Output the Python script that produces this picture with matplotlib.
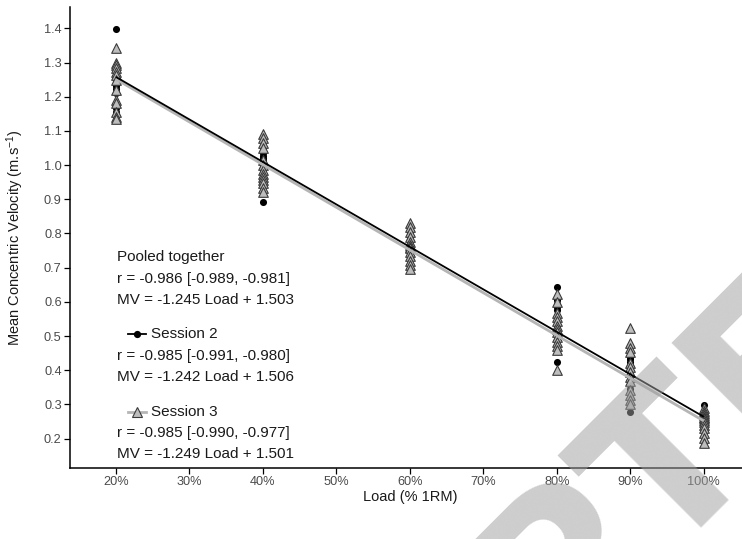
import numpy as np
import matplotlib
matplotlib.use("Agg")
import matplotlib.pyplot as plt

# ---- data -------------------------------------------------------------
load_pct = [20, 40, 60, 80, 90, 100]

# Session 2 mean concentric velocity (m/s) at each load
s2_20 = [1.397, 1.262, 1.255, 1.245, 1.245, 1.238, 1.230, 1.222, 1.210, 1.176, 1.168, 1.156]
s2_40 = [1.054, 1.034, 1.027, 1.020, 1.015, 1.005, 0.995, 0.985, 0.975, 0.965, 0.955, 0.893]
s2_60 = [0.815, 0.808, 0.800, 0.790, 0.785, 0.775, 0.765, 0.757, 0.745, 0.735, 0.728, 0.712]
s2_80 = [0.644, 0.605, 0.595, 0.586, 0.575, 0.547, 0.538, 0.527, 0.515, 0.505, 0.490, 0.425]
s2_90 = [0.440, 0.432, 0.424, 0.415, 0.410, 0.406, 0.390, 0.380, 0.367, 0.357, 0.345, 0.279]
s2_100 = [0.299, 0.280, 0.270, 0.265, 0.262, 0.258, 0.255, 0.252, 0.250, 0.248, 0.245, 0.240]

# Session 3 mean concentric velocity (m/s) at each load
s3_20 = [1.341, 1.300, 1.292, 1.283, 1.272, 1.263, 1.250, 1.220, 1.190, 1.182, 1.156, 1.142, 1.135]
s3_40 = [1.090, 1.078, 1.064, 1.050, 1.015, 1.000, 0.986, 0.975, 0.966, 0.955, 0.947, 0.932, 0.922]
s3_60 = [0.832, 0.820, 0.805, 0.791, 0.776, 0.765, 0.760, 0.757, 0.747, 0.735, 0.720, 0.708, 0.695]
s3_80 = [0.623, 0.600, 0.567, 0.555, 0.545, 0.530, 0.520, 0.513, 0.498, 0.484, 0.470, 0.459, 0.401]
s3_90 = [0.523, 0.479, 0.464, 0.454, 0.420, 0.410, 0.396, 0.381, 0.370, 0.342, 0.328, 0.313, 0.300]
s3_100 = [0.289, 0.280, 0.274, 0.270, 0.264, 0.260, 0.255, 0.250, 0.240, 0.230, 0.216, 0.201, 0.186]

# Linear fits: MV = slope * Load + intercept (Load as fraction of 1RM)
fit_labels = ["Pooled together", "Session 2", "Session 3"]
fit_r = ["-0.986 [-0.989, -0.981]", "-0.985 [-0.991, -0.980]", "-0.985 [-0.990, -0.977]"]
fit_slope = [-1.245, -1.242, -1.249]
fit_intercept = [1.503, 1.506, 1.501]

x_ticks = [20, 30, 40, 50, 60, 70, 80, 90, 100]
y_ticks = [0.2, 0.3, 0.4, 0.5, 0.6, 0.7, 0.8, 0.9, 1.0, 1.1, 1.2, 1.3, 1.4]

# ---- style -------------------------------------------------------------
plt.rcParams["font.family"] = ["Liberation Sans", "DejaVu Sans"]
plt.rcParams["mathtext.fontset"] = "custom"
plt.rcParams["mathtext.rm"] = "Liberation Sans"
plt.rcParams["mathtext.default"] = "regular"

W, H = 742, 539
fig = plt.figure(figsize=(W / 100, H / 100), dpi=100)
fig.patch.set_facecolor("white")


def fpx(x, y):
    """Pixel position (from top-left) to figure fraction."""
    return x / W, 1 - y / H


ax = fig.add_axes([70 / W, (H - 468) / H, (W - 70) / W, (468 - 7) / H])
ax.set_xlim(13.74, 105.2)
ax.set_ylim(0.1143, 1.4623)

S2_COLOR = "black"
S3_FACE = "#bdbdbd"
S3_EDGE = "#3a3a3a"
S3_LINE = "#b5b5b5"

s2_sets = [s2_20, s2_40, s2_60, s2_80, s2_90, s2_100]
s3_sets = [s3_20, s3_40, s3_60, s3_80, s3_90, s3_100]

for x, vals in zip(load_pct, s2_sets):
    ax.scatter([x] * len(vals), vals, s=26, marker="o", color=S2_COLOR,
               linewidths=0, zorder=3)
for x, vals in zip(load_pct, s3_sets):
    ax.scatter([x] * len(vals), vals, s=48, marker="^", facecolor=S3_FACE,
               edgecolor=S3_EDGE, linewidths=0.8, zorder=4)

# regression lines for each session
xl = np.array([load_pct[0], load_pct[-1]], dtype=float)
ax.plot(xl, fit_slope[2] * xl / 100 + fit_intercept[2], color=S3_LINE, lw=2.0,
        zorder=5, solid_capstyle="butt")
ax.plot(xl, fit_slope[1] * xl / 100 + fit_intercept[1], color=S2_COLOR, lw=1.3,
        zorder=6, solid_capstyle="butt")

# axes styling
for side in ["top", "right"]:
    ax.spines[side].set_visible(False)
for side in ["left", "bottom"]:
    ax.spines[side].set_linewidth(1.1)
    ax.spines[side].set_color("black")

ax.set_xticks(x_ticks)
ax.set_xticklabels([f"{t}%" for t in x_ticks])
ax.set_yticks(y_ticks)
ax.set_yticklabels([f"{t:.1f}" for t in y_ticks])
ax.tick_params(axis="both", length=4, width=0.9, color="black",
               labelsize=9.2, labelcolor="#4a4a4a", pad=2)

ax.set_xlabel("Load (% 1RM)", fontsize=10.5, color="#1a1a1a")
ax.xaxis.set_label_coords(0.506, -0.047)
ax.set_ylabel("Mean Concentric Velocity (m.s$^{-1}$)", fontsize=10.5, color="#1a1a1a")
ax.yaxis.set_label_coords(-0.066, 0.5)

# ---- fit annotations ----------------------------------------------------
TXT = dict(fontsize=11, color="#1a1a1a", va="center", ha="left")
tx = 116.7

fig.text(*fpx(tx, 256.7), fit_labels[0], **TXT)
fig.text(*fpx(tx, 279.3), f"r = {fit_r[0]}", **TXT)
fig.text(*fpx(tx, 300.0), f"MV = {fit_slope[0]:.3f} Load + {fit_intercept[0]:.3f}", **TXT)

# Session 2 key
ly = 334.3
x0, y0 = fpx(128, ly)
x1, _ = fpx(146, ly)
xm, _ = fpx(137, ly)
fig.add_artist(plt.Line2D([x0, x1], [y0, y0], color=S2_COLOR, lw=1.3,
                          transform=fig.transFigure))
fig.add_artist(plt.Line2D([xm], [y0], marker="o", markersize=5.2, color=S2_COLOR,
                          markeredgewidth=0, transform=fig.transFigure))
fig.text(*fpx(150.7, ly), fit_labels[1], **TXT)
fig.text(*fpx(tx, 356.0), f"r = {fit_r[1]}", **TXT)
fig.text(*fpx(tx, 376.7), f"MV = {fit_slope[1]:.3f} Load + {fit_intercept[1]:.3f}", **TXT)

# Session 3 key
ly = 411.7
x0, y0 = fpx(128, ly)
x1, _ = fpx(146, ly)
xm, _ = fpx(137, ly)
fig.add_artist(plt.Line2D([x0, x1], [y0, y0], color=S3_LINE, lw=2.0,
                          transform=fig.transFigure))
fig.add_artist(plt.Line2D([xm], [y0], marker="^", markersize=7, markerfacecolor=S3_FACE,
                          markeredgecolor=S3_EDGE, markeredgewidth=0.8,
                          transform=fig.transFigure))
fig.text(*fpx(150.7, ly), fit_labels[2], **TXT)
fig.text(*fpx(tx, 433.3), f"r = {fit_r[2]}", **TXT)
fig.text(*fpx(tx, 454.3), f"MV = {fit_slope[2]:.3f} Load + {fit_intercept[2]:.3f}", **TXT)

# ---- manuscript watermark ------------------------------------------------
fig.text(127 / W, -564 / H, "ACCEPTED MANUSCRIPT", fontsize=150,
         fontfamily="DejaVu Sans", fontweight="bold", color="#a0a0a0", alpha=0.52,
         rotation=45, rotation_mode="anchor", ha="left", va="baseline", zorder=20)

fig.savefig("out.png", dpi=100, facecolor="white")
